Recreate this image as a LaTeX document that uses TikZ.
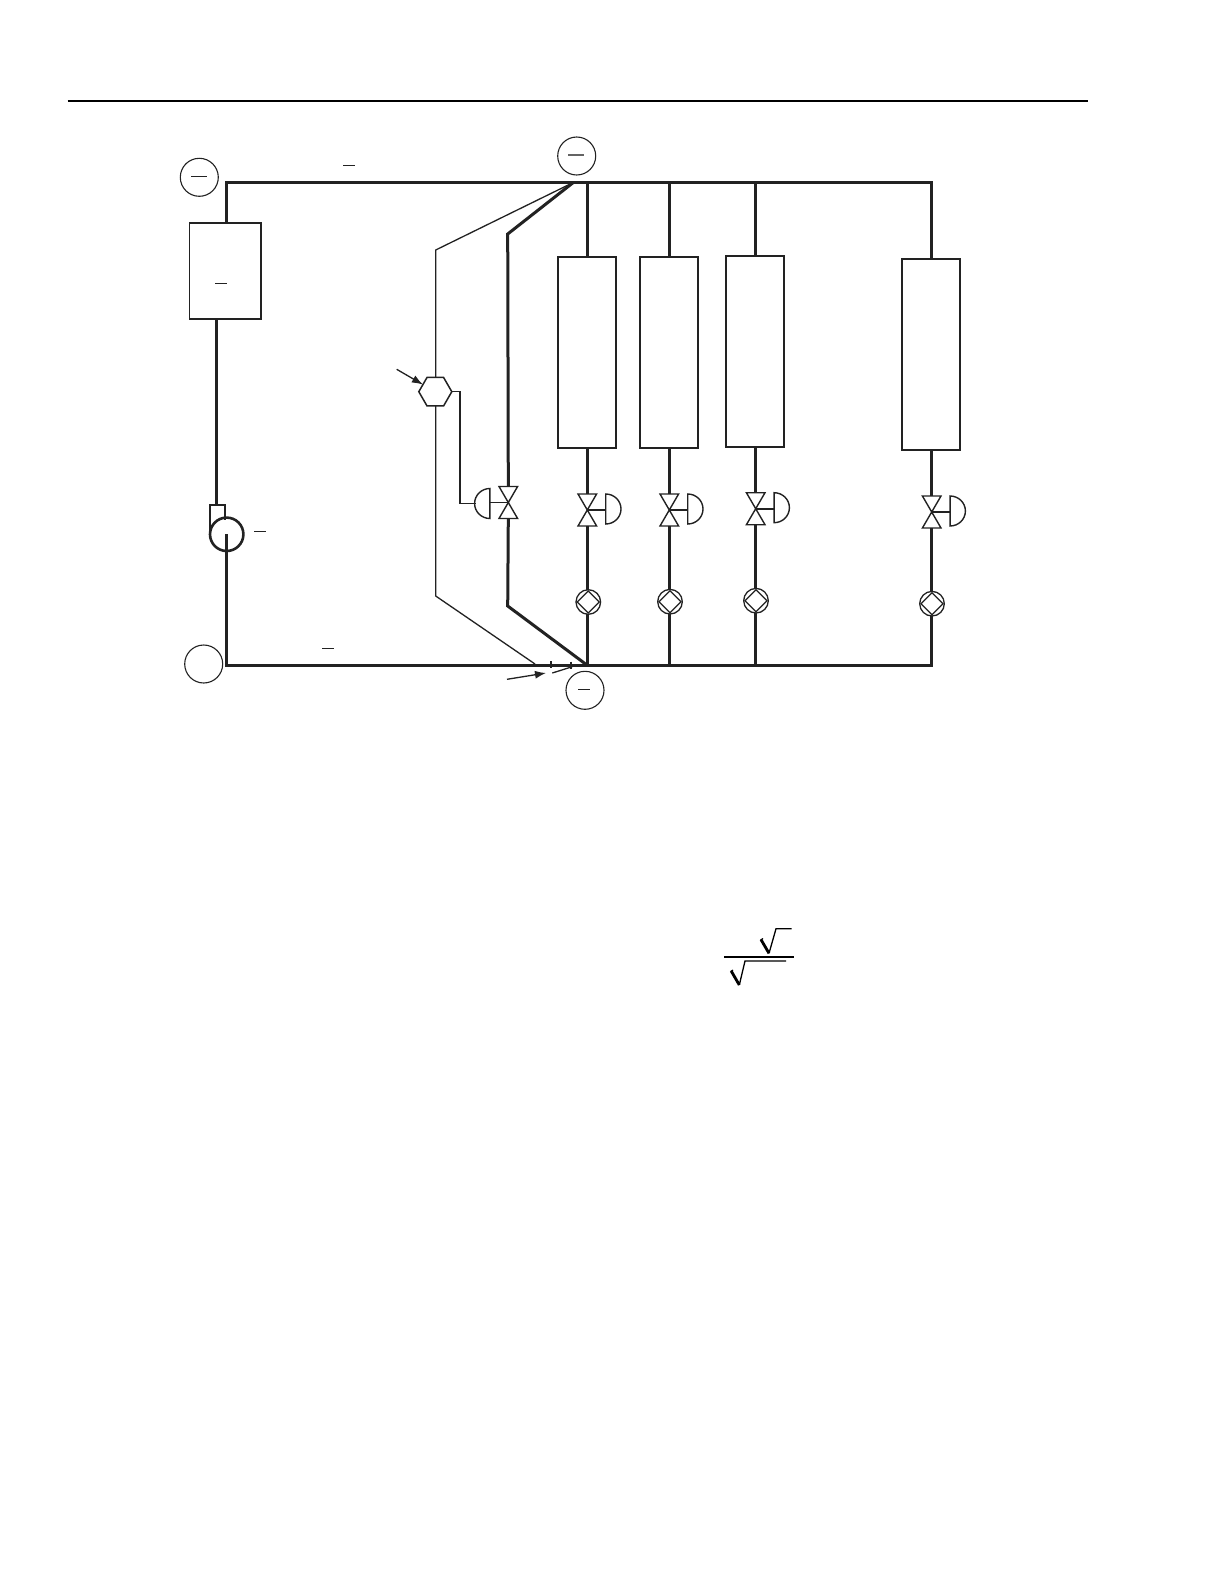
\documentclass[tikz,border=0pt]{standalone}
\usetikzlibrary{shapes.geometric,arrows.meta}
\definecolor{ink}{HTML}{222222}
\tikzset{
  x=1pt,y=-1pt,
  every path/.style={color=ink},
  pipe/.style={draw=ink,line width=2.6pt,line cap=butt,line join=miter},
  sigline/.style={draw=ink,line width=1.3pt,line join=miter},
  unitbox/.style={draw=ink,line width=1.7pt,rectangle,inner sep=0pt,outer sep=0pt,minimum width=58pt,minimum height=191pt},
  tag/.style={draw=ink,line width=1.1pt,circle,inner sep=0pt,outer sep=0pt,minimum size=38pt},
  dashmark/.style={draw=ink,line width=1pt},
  meter/.style={draw=ink,line width=1.3pt,circle,inner sep=0pt,outer sep=0pt,minimum size=24.6pt},
  meterd/.style={draw=ink,line width=1.2pt,diamond,inner sep=0pt,outer sep=0pt,minimum size=22pt},
  hexa/.style={draw=ink,line width=1.5pt,regular polygon,regular polygon sides=6,shape border rotate=0,inner sep=0pt,outer sep=0pt,minimum size=33pt},
  vbody/.style={draw=ink,line width=1.4pt,line join=miter},
  arrowtip/.style={draw=ink,line width=1.3pt,-{Latex[length=11pt,width=8pt]}}
}
% #1 name, #2 x, #3 y centre, #4 side (+1 right, -1 left)
\newcommand{\valvesym}[4]{%
  \coordinate (#1-c) at (#2,#3);
  \coordinate (#1-t) at (#2,#3-16);
  \coordinate (#1-b) at (#2,#3+16);
  \coordinate (#1-f) at (#2+#4*18.4,#3);
  \draw[vbody] (#2-9.3,#3-16) -- (#2+9.3,#3-16) -- (#2-9.3,#3+16) -- (#2+9.3,#3+16) -- cycle;
  \draw[vbody] (#2+#4*18.4,#3-#4-15) arc[start angle=-90,end angle={-90+180*#4},x radius=15.3,y radius=15] -- cycle;
  \draw[line width=1.6pt,draw=ink] (#1-c) -- (#1-f);
}
\begin{document}
\begin{tikzpicture}
\useasboundingbox (0,0) rectangle (1224,1584);
\fill[white] (0,0) rectangle (1224,1584);
% page rule
\coordinate (ruleL) at (67.7,101);
\coordinate (ruleR) at (1088,101);
\draw[line width=1.8pt,draw=black] (ruleL) -- (ruleR);

% boxes
\node[unitbox,minimum width=71.5pt,minimum height=96pt] (source) at (225.3,271.3) {};
\node[unitbox] (b1) at (587.1,352.7) {};
\node[unitbox] (b2) at (669,352.7) {};
\node[unitbox] (b3) at (755.3,351.7) {};
\node[unitbox] (b4) at (931.2,354.7) {};

% tags
\node[tag] (tagA) at (199.3,177.3) {};
\node[tag] (tagB) at (576.7,156) {};
\node[tag] (tagC) at (203.7,664) {};
\node[tag] (tagD) at (585,690.3) {};

% pipe junctions
\coordinate (TL) at (226.7,182.5);
\coordinate (TR) at (931.7,182.5);
\coordinate (BL) at (226.7,665.3);
\coordinate (BR) at (931.7,665.3);
\coordinate (T0) at (573.3,182.5);
\coordinate (T1) at (587.3,182.5);
\coordinate (T2) at (669.3,182.5);
\coordinate (T3) at (755.7,182.5);
\coordinate (B1) at (587.3,665.3);
\coordinate (B2) at (669.3,665.3);
\coordinate (B3) at (755.7,665.3);
\coordinate (bypU) at (507.7,234);
\coordinate (bypL) at (507.7,606);
\coordinate (thinU) at (435.7,250);
\coordinate (thinL) at (435.7,596);
\coordinate (thinB) at (535,664);
\coordinate (srcOut) at (216.7,319);
\coordinate (srcIn) at (226.7,223);

% hexagon
\node[hexa] (hex) at (435.3,391.7) {};

% valves
\valvesym{vb}{508.3}{502.5}{-1}
\valvesym{v1}{587.3}{510}{1}
\valvesym{v2}{669.3}{510}{1}
\valvesym{v3}{755.7}{508.7}{1}
\valvesym{v4}{931.7}{512}{1}

% flow meters
\node[meter] (m1) at (588.3,602) {};
\node[meterd] at (m1) {};
\node[meter] (m2) at (670,601.7) {};
\node[meterd] at (m2) {};
\node[meter] (m3) at (756,600.7) {};
\node[meterd] at (m3) {};
\node[meter] (m4) at (932,603.7) {};
\node[meterd] at (m4) {};

% pump
\node[draw=ink,line width=2.6pt,circle,inner sep=0pt,outer sep=0pt,minimum size=33.4pt] (pump) at (226.7,534.3) {};
\coordinate (nkTL) at (210,504.7);
\coordinate (nkTR) at (225,504.7);
\coordinate (nkBR) at (225,519);
\coordinate (nkBL) at (210,530);
\coordinate (nkIn) at (216.7,504.7);
\draw[line width=1.4pt,draw=ink] (nkTL) -- (nkBL);
\draw[line width=2.4pt,draw=ink,line cap=rect] (nkTL) -- (nkTR) -- (nkBR);

% main pipes
\draw[pipe] (srcIn) -- (TL) -- (TR) -- (b4.north -| TR);
\draw[pipe] (srcOut) -- (nkIn);
\draw[pipe] (pump.center) -- (BL) -- (BR) -- (m4.south -| TR);
\draw[pipe] (T1) -- (b1.north -| T1);
\draw[pipe] (T2) -- (b2.north -| T2);
\draw[pipe] (T3) -- (b3.north -| T3);
\draw[pipe] (b1.south -| T1) -- (v1-t);
\draw[pipe] (b2.south -| T2) -- (v2-t);
\draw[pipe] (b3.south -| T3) -- (v3-t);
\draw[pipe] (b4.south -| TR) -- (v4-t);
\draw[pipe] (v1-b) -- (m1.north -| T1);
\draw[pipe] (v2-b) -- (m2.north -| T2);
\draw[pipe] (v3-b) -- (m3.north -| T3);
\draw[pipe] (v4-b) -- (m4.north -| TR);
\draw[pipe] (m1.south -| T1) -- (B1);
\draw[pipe] (m2.south -| T2) -- (B2);
\draw[pipe] (m3.south -| T3) -- (B3);
% bypass
\draw[pipe,line width=3pt] (T0) -- (bypU) -- (vb-t);
\draw[pipe,line width=3pt] (vb-b) -- (bypL) -- (B1);

% signal lines
\draw[sigline] (T0) -- (thinU) -- (hex.north -| thinU);
\draw[sigline] (hex.south -| thinL) -- (thinL) -- (thinB);
\coordinate (sigA) at (460,391.7);
\coordinate (sigB) at (460,503.5);
\coordinate (sigC) at (475.7,503.5);
\draw[sigline] (hex.corner 6 |- hex.center) -- (sigA) -- (sigB) -- (sigC);

% arrows
\coordinate (a1s) at (396.7,369.3);
\coordinate (a2s) at (507,679.3);
\coordinate (a2e) at (546,673);
\draw[arrowtip] (a1s) -- (hex.150);
\draw[arrowtip] (a2s) -- (a2e);
\coordinate (a3s) at (552.3,673);
\coordinate (a3e) at (572.3,666.7);
\draw[line width=1.3pt,draw=ink] (a3s) -- (a3e);
\coordinate (t1a) at (551,661); \coordinate (t1b) at (551,668.3);
\coordinate (t2a) at (571,661.7); \coordinate (t2b) at (571,669);
\draw[line width=1.2pt,draw=ink] (t1a) -- (t1b);
\draw[line width=1.2pt,draw=ink] (t2a) -- (t2b);

% short dashes (minus bars)
\draw[dashmark] (191,176) -- (207,176);
\draw[dashmark,line width=1.2pt,draw=ink!70] (568.3,155) -- (584.3,155);
\draw[dashmark] (343.3,165) -- (355,165);
\draw[dashmark] (215,283.3) -- (227,283.3);
\draw[dashmark] (254.3,531.3) -- (266,531.3);
\draw[dashmark] (322,648.3) -- (334,648.3);
\draw[dashmark] (578,689.3) -- (590,689.3);

% formula fragments
\draw[line width=1.7pt,draw=black] (724,956.7) -- (794,956.7);
\draw[line width=1.3pt,draw=black,line join=miter] (769,953.3) -- (776,928.7) -- (791.7,928.7);
\draw[line width=2.8pt,draw=black] (761,939.6) -- (769,953.3);
\draw[line width=1.1pt,draw=black] (760.5,940) -- (763,938.5);
\draw[line width=1.3pt,draw=black,line join=miter] (739.3,985) -- (745,961) -- (786,961);
\draw[line width=2.8pt,draw=black] (731.2,971) -- (739.3,985);
\draw[line width=1.1pt,draw=black] (730.5,971.5) -- (733,970);
\end{tikzpicture}
\end{document}
